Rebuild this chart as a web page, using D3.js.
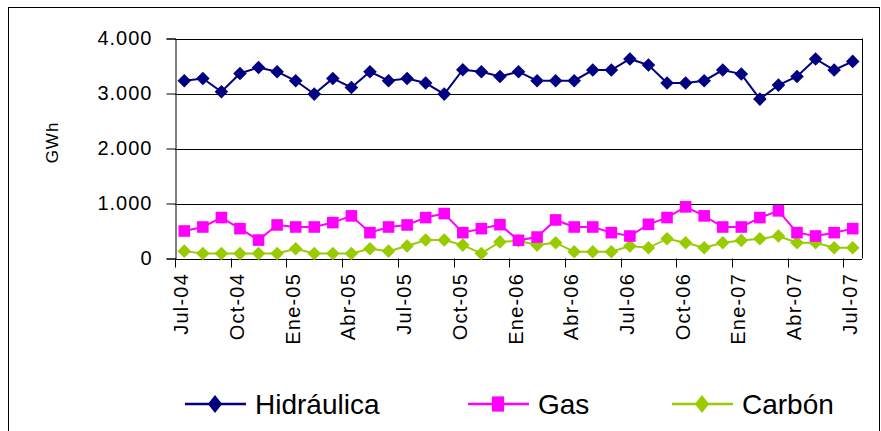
<!DOCTYPE html>
<html lang="es">
<head>
  <meta charset="UTF-8">
  <title>Generación</title>
  <script src="https://cdn.jsdelivr.net/npm/d3@7"></script>
  <style>
    html, body {
      margin: 0;
      padding: 0;
      background: #fff;
      overflow: hidden;
    }
    text {
      font-family: "Liberation Sans", Arial, sans-serif;
      fill: #000;
    }
  </style>
</head>
<body>
  <svg id="chart" width="881" height="431"></svg>
  <script>
    const categories = [
      'Jul-04', 'Ago-04', 'Sep-04', 'Oct-04', 'Nov-04', 'Dic-04',
      'Ene-05', 'Feb-05', 'Mar-05', 'Abr-05', 'May-05', 'Jun-05',
      'Jul-05', 'Ago-05', 'Sep-05', 'Oct-05', 'Nov-05', 'Dic-05',
      'Ene-06', 'Feb-06', 'Mar-06', 'Abr-06', 'May-06', 'Jun-06',
      'Jul-06', 'Ago-06', 'Sep-06', 'Oct-06', 'Nov-06', 'Dic-06',
      'Ene-07', 'Feb-07', 'Mar-07', 'Abr-07', 'May-07', 'Jun-07',
      'Jul-07'
    ];
    const hidraulica = [
      3232, 3274, 3031, 3365, 3474, 3396, 3232, 2989, 3274, 3109, 3396, 3232,
      3274, 3190, 2989, 3432, 3396, 3310, 3396, 3232, 3232, 3232, 3427, 3427,
      3628, 3518, 3190, 3190, 3232, 3427, 3354, 2898, 3153, 3310, 3628, 3427,
      3584
    ];
    const gas = [
      500, 573, 744, 543, 335, 610, 573, 573, 653, 775, 470, 573,
      610, 744, 817, 470, 543, 615, 330, 390, 701, 573, 573, 470,
      409, 622, 744, 939, 775, 573, 573, 744, 866, 470, 409, 470,
      543
    ];
    const carbon = [
      134, 92, 92, 92, 92, 92, 177, 92, 92, 92, 177, 134,
      226, 336, 336, 244, 92, 302, 323, 244, 287, 122, 122, 122,
      226, 195, 360, 287, 195, 287, 329, 360, 409, 287, 287, 195,
      195
    ];
    const yTicks = [0, 1000, 2000, 3000, 4000];

    const series = [
      {name: 'Hidráulica', values: hidraulica, color: '#000080', shape: 'diamond'},
      {name: 'Gas', values: gas, color: '#ff00ff', shape: 'square'},
      {name: 'Carbón', values: carbon, color: '#99cc00', shape: 'diamond'},
    ];

    const svg = d3.select('#chart');
    const plotLeft = 175, plotRight = 862, plotTop = 38.5, plotBottom = 258.5;

    const x = d3.scaleBand().domain(categories).range([plotLeft, plotRight]);
    const y = d3.scaleLinear().domain([0, 4000]).range([plotBottom, plotTop]);
    const cx = d => x(d) + x.bandwidth() / 2;

    const es = d3.formatLocale({decimal: ',', thousands: '.', grouping: [3], currency: ['', '']});
    const fmt = es.format(',');

    // outer frame
    svg.append('rect')
      .attr('x', 8.5).attr('y', 7.5)
      .attr('width', 871).attr('height', 440)
      .attr('fill', 'none').attr('stroke', '#000').attr('stroke-width', 1);

    // gridlines
    svg.append('g')
      .selectAll('line')
      .data(yTicks)
      .join('line')
      .attr('x1', plotLeft).attr('x2', plotRight)
      .attr('y1', d => Math.round(y(d)) + 0.5).attr('y2', d => Math.round(y(d)) + 0.5)
      .attr('stroke', '#000');

    // plot right border
    svg.append('line')
      .attr('x1', plotRight + 0.5).attr('x2', plotRight + 0.5)
      .attr('y1', plotTop).attr('y2', plotBottom)
      .attr('stroke', '#000');

    // y axis
    const yAxis = svg.append('g')
      .attr('transform', `translate(${plotLeft + 0.5},0)`)
      .call(d3.axisLeft(y).tickValues(yTicks).tickFormat(fmt).tickSize(9).tickPadding(14));
    yAxis.select('.domain').attr('stroke', '#000');
    yAxis.selectAll('.tick line').attr('stroke', '#000');
    yAxis.selectAll('.tick text')
      .style('font-size', '20px')
      .style('letter-spacing', '1px')
      .attr('fill', '#000');

    // x axis: ticks on category boundaries every 3 months
    const xg = svg.append('g');
    xg.append('line')
      .attr('x1', plotLeft).attr('x2', plotRight)
      .attr('y1', Math.round(plotBottom) + 0.5).attr('y2', Math.round(plotBottom) + 0.5)
      .attr('stroke', '#000');
    const shown = categories.filter((c, i) => i % 3 === 0);
    xg.selectAll('line.tick')
      .data(shown)
      .join('line')
      .attr('class', 'tick')
      .attr('x1', d => Math.round(x(d)) + 0.5).attr('x2', d => Math.round(x(d)) + 0.5)
      .attr('y1', plotBottom).attr('y2', plotBottom + 9)
      .attr('stroke', '#000');
    xg.selectAll('text')
      .data(shown)
      .join('text')
      .attr('transform', d => `translate(${cx(d) + 4},273) rotate(-90)`)
      .attr('text-anchor', 'end')
      .style('font-size', '20px')
      .style('letter-spacing', '1.2px')
      .text(d => d);

    // y title
    svg.append('text')
      .attr('transform', 'translate(58,142.5) rotate(-90)')
      .attr('text-anchor', 'middle')
      .style('font-size', '17px')
      .style('letter-spacing', '1px')
      .text('GWh');

    const diamond = s => `M0,${-s}L${s},0L0,${s}L${-s},0Z`;
    const square = s => `M${-s},${-s}H${s}V${s}H${-s}Z`;
    const marker = (shape, k) => shape === 'diamond' ? diamond(6.8 * k) : square(5.8 * k);

    const line = d3.line()
      .x((d, i) => cx(categories[i]))
      .y(d => y(d));

    // draw in reverse so Hidráulica and Gas sit above Carbón
    series.slice().reverse().forEach(s => {
      const g = svg.append('g');
      g.append('path')
        .attr('d', line(s.values))
        .attr('fill', 'none')
        .attr('stroke', s.color)
        .attr('stroke-width', 2);
      g.selectAll('path.m')
        .data(s.values)
        .join('path')
        .attr('class', 'm')
        .attr('transform', (d, i) => `translate(${cx(categories[i])},${y(d)})`)
        .attr('d', marker(s.shape, 1))
        .attr('fill', s.color);
    });

    // legend
    const legendX = [185, 468, 672];
    const legend = svg.append('g')
      .selectAll('g')
      .data(series)
      .join('g')
      .attr('transform', (d, i) => `translate(${legendX[i]},404)`);
    legend.append('line')
      .attr('x1', 0).attr('x2', 61)
      .attr('stroke', d => d.color)
      .attr('stroke-width', 2.5);
    legend.append('path')
      .attr('transform', 'translate(30,0) scale(1,1.25)')
      .attr('d', d => marker(d.shape, 1.05))
      .attr('fill', d => d.color);
    legend.append('text')
      .attr('x', 70)
      .attr('y', 10)
      .style('font-size', '28px')
      .text(d => d.name);
  </script>
</body>
</html>
